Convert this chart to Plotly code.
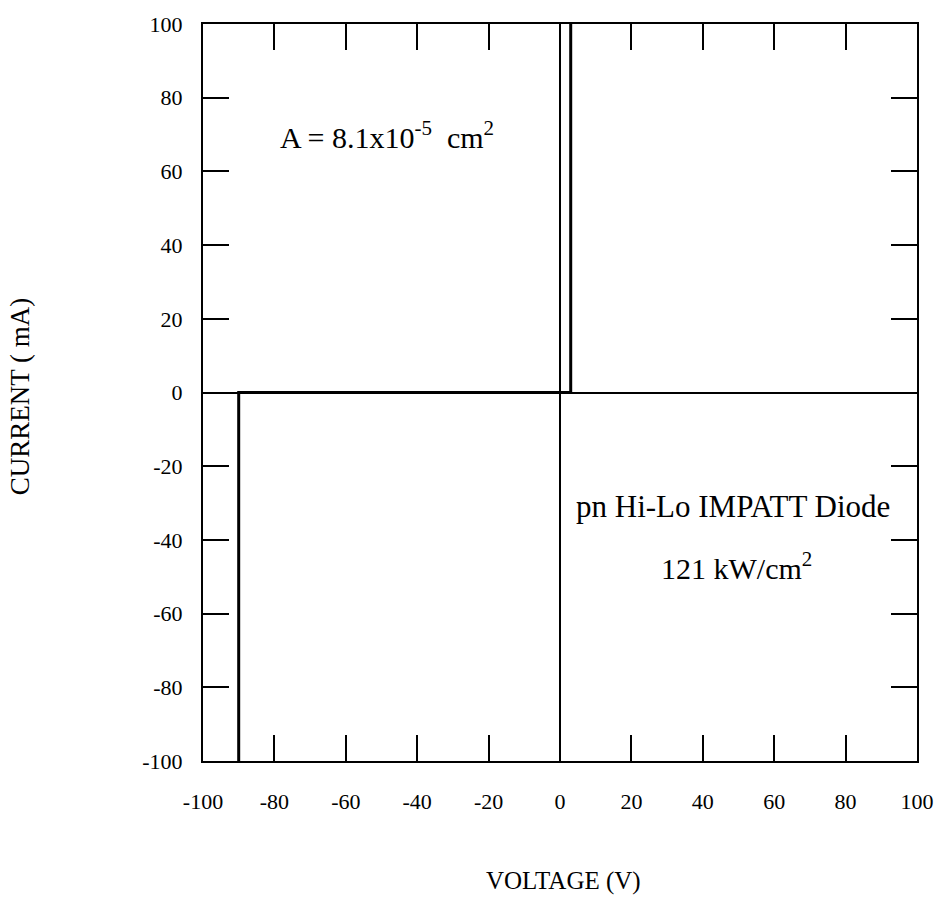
import plotly.graph_objects as go

# I-V characteristic of the pn Hi-Lo IMPATT diode (breakdown near -90 V)
voltage_v = [-90, -90, 3, 3]
current_ma = [-100, 0, 0, 100]

x_ticks = [-100, -80, -60, -40, -20, 0, 20, 40, 60, 80, 100]
x_tick_text = ["-100", "-80", "-60", "-40", "-20", "0", "20", "40", "60", "80", "100"]
y_ticks = [-100, -80, -60, -40, -20, 0, 20, 40, 60, 80, 100]
y_tick_text = ["-100", "-80", "-60", "-40", "-20", "0", "20", "40", "60", "80", "100"]

FONT = "Liberation Serif, Times New Roman, serif"

fig = go.Figure()
fig.add_trace(go.Scatter(
    x=voltage_v, y=current_ma, mode="lines",
    line=dict(color="black", width=3), showlegend=False, hoverinfo="skip",
))

axis_common = dict(
    range=[-100, 100], showgrid=False, showline=True, linecolor="black", linewidth=2,
    mirror="allticks", ticks="inside", ticklen=26, tickwidth=2, tickcolor="black",
    zeroline=True, zerolinecolor="black", zerolinewidth=2,
    tickfont=dict(family=FONT, size=22, color="black"),
)

fig.update_xaxes(**axis_common, tickvals=x_ticks, ticktext=x_tick_text, ticklabelstandoff=20)
fig.update_yaxes(**axis_common, tickvals=y_ticks, ticktext=y_tick_text, ticklabelstandoff=14)

fig.add_annotation(xref="paper", yref="paper", x=0.505, y=-0.185, text="VOLTAGE (V)",
                   showarrow=False, font=dict(family=FONT, size=25, color="black"))
fig.add_annotation(xref="paper", yref="paper", x=-0.28, y=0.495, text="CURRENT ( mA)",
                   textangle=-90, showarrow=False, font=dict(family=FONT, size=27, color="black"))

fig.add_annotation(x=-48.5, y=70, text="A = 8.1x10<sup>-5</sup>  cm<sup>2</sup>",
                   showarrow=False, font=dict(family=FONT, size=30, color="black"))
fig.add_annotation(x=48.5, y=-31, text="pn Hi-Lo IMPATT Diode",
                   showarrow=False, font=dict(family=FONT, size=31, color="black"))
fig.add_annotation(x=49.5, y=-47, text="121 kW/cm<sup>2</sup>",
                   showarrow=False, font=dict(family=FONT, size=30, color="black"))

fig.update_layout(
    width=946, height=919,
    margin=dict(l=203, r=22, t=24, b=158),
    paper_bgcolor="white", plot_bgcolor="white",
    font=dict(family=FONT, color="black"),
)

fig.write_html("out.html")
